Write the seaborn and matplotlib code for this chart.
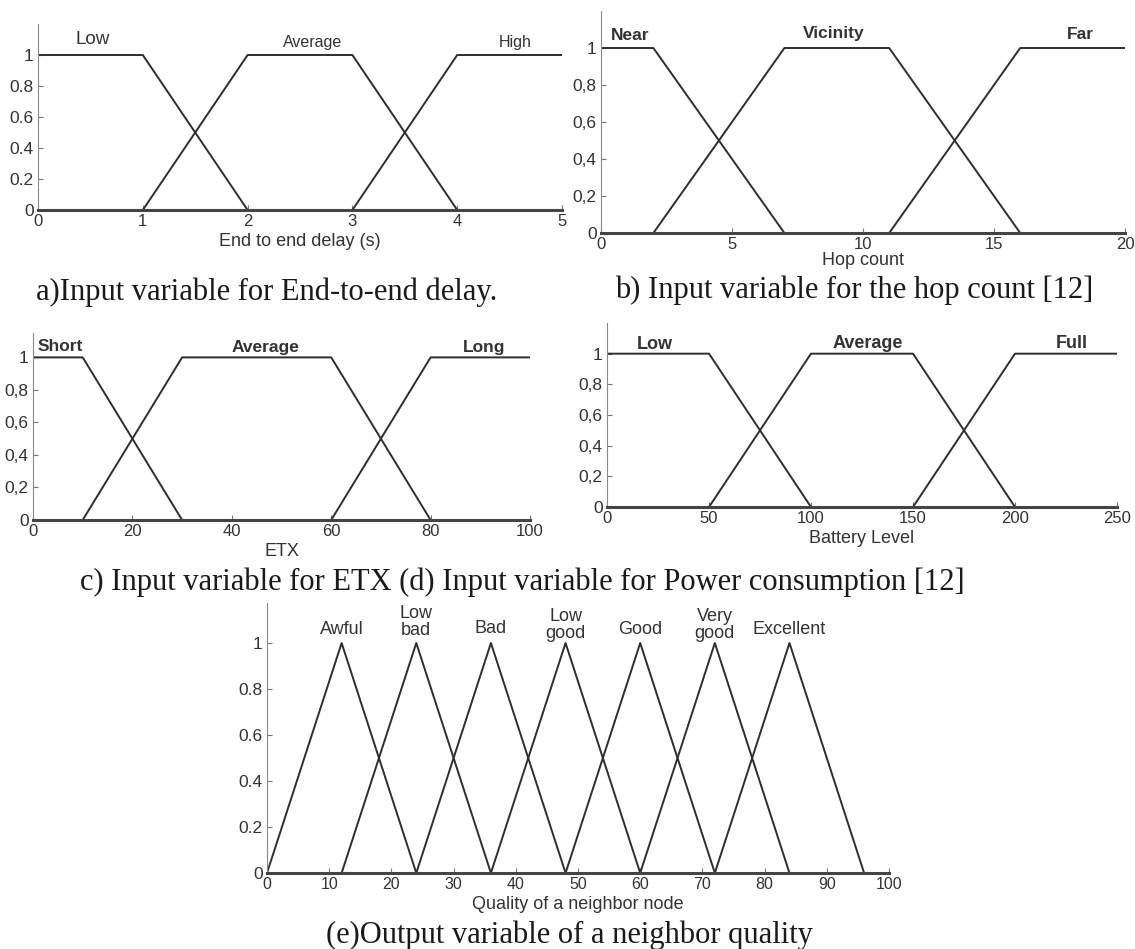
import numpy as np
import pandas as pd
import seaborn as sns
import matplotlib.pyplot as plt

sns.set_theme(style="white")
plt.rcParams['font.family'] = ['Liberation Sans', 'DejaVu Sans']

# membership grades on the y axis
mu_ticks = [0, 0.2, 0.4, 0.6, 0.8, 1]
mu_dot = ["0", "0.2", "0.4", "0.6", "0.8", "1"]
mu_comma = ["0", "0,2", "0,4", "0,6", "0,8", "1"]

# a) end to end delay
delay_sets = ["Low", "Average", "High"]
delay_x = [[0, 1, 2], [1, 2, 3, 4], [3, 4, 5]]
delay_y = [[1, 1, 0], [0, 1, 1, 0], [0, 1, 1]]
delay_ticks = [0, 1, 2, 3, 4, 5]

# b) hop count
hop_sets = ["Near", "Vicinity", "Far"]
hop_x = [[0, 2, 7], [2, 7, 11, 16], [11, 16, 20]]
hop_y = [[1, 1, 0], [0, 1, 1, 0], [0, 1, 1]]
hop_ticks = [0, 5, 10, 15, 20]

# c) ETX
etx_sets = ["Short", "Average", "Long"]
etx_x = [[0, 10, 30], [10, 30, 60, 80], [60, 80, 100]]
etx_y = [[1, 1, 0], [0, 1, 1, 0], [0, 1, 1]]
etx_ticks = [0, 20, 40, 60, 80, 100]

# d) battery level
bat_sets = ["Low", "Average", "Full"]
bat_x = [[0, 50, 100], [50, 100, 150, 200], [150, 200, 250]]
bat_y = [[1, 1, 0], [0, 1, 1, 0], [0, 1, 1]]
bat_ticks = [0, 50, 100, 150, 200, 250]

# e) neighbor quality (output)
q_sets = ["Awful", "Low\nbad", "Bad", "Low\ngood", "Good", "Very\ngood", "Excellent"]
q_x = [[0, 12, 24], [12, 24, 36], [24, 36, 48], [36, 48, 60],
       [48, 60, 72], [60, 72, 84], [72, 84, 96]]
q_y = [[0, 1, 0]] * 7
q_ticks = [0, 10, 20, 30, 40, 50, 60, 70, 80, 90, 100]

LINE = "#2e2e2e"


def draw(ax, xs, ys, names, xticks, ylabels, xlabel, ytop, tsize=12.5, xtsize=12, lpad=3):
    rows = []
    for name, xx, yy in zip(names, xs, ys):
        for i, (a, b) in enumerate(zip(xx, yy)):
            rows.append({"x": a, "mu": b, "set": name, "k": i})
    df = pd.DataFrame(rows)
    sns.lineplot(data=df, x="x", y="mu", units="set", estimator=None, sort=False,
                 color=LINE, lw=1.4, ax=ax)
    ax.set_xlim(xticks[0], xticks[-1])
    ax.set_ylim(0, ytop)
    ax.set_xticks(xticks)
    ax.set_xticklabels([str(t) for t in xticks])
    ax.set_yticks(mu_ticks)
    ax.set_yticklabels(ylabels)
    ax.set_ylabel("")
    ax.set_xlabel(xlabel, fontsize=13, labelpad=lpad, color="#333333")
    for s in ["top", "right"]:
        ax.spines[s].set_visible(False)
    ax.spines["left"].set_linewidth(0.8)
    ax.spines["left"].set_color("#8a8a8a")
    ax.spines["bottom"].set_linewidth(2.2)
    ax.spines["bottom"].set_color("#444444")
    ax.tick_params(axis="both", direction="in", length=3.5, width=0.8, color="#777777",
                   bottom=True, left=True, labelcolor="#333333", pad=3)
    ax.tick_params(axis="y", labelsize=tsize)
    ax.tick_params(axis="x", labelsize=xtsize)
    ax.patch.set_alpha(0)


fig = plt.figure(figsize=(11.35, 9.49), dpi=100)
W, H = 1135.0, 949.0


def box(x0, x1, y0, ytop_px):
    return [x0 / W, 1 - y0 / H, (x1 - x0) / W, (y0 - ytop_px) / H]


# a
ax_a = fig.add_axes(box(38, 562, 210, 24))
draw(ax_a, delay_x, delay_y, delay_sets, delay_ticks, mu_dot, "End to end delay (s)", 1.2)
for name, px, py, fs in zip(delay_sets, [0.52, 2.62, 4.55], [1.10, 1.08, 1.08], [13.5, 11.5, 11.5]):
    ax_a.text(px, py, name, ha="center", va="center", fontsize=fs, color="#333333")

# b
ax_b = fig.add_axes(box(601, 1125, 233, 11))
draw(ax_b, hop_x, hop_y, hop_sets, hop_ticks, mu_comma, "Hop count", 1.2, lpad=0)
for name, px, py in zip(hop_sets, [1.1, 8.9, 18.3], [1.065, 1.08, 1.075]):
    ax_b.text(px, py, name, ha="center", va="center", fontsize=12.5, fontweight="bold", color="#333333")

# c
ax_c = fig.add_axes(box(33, 530, 520, 333))
draw(ax_c, etx_x, etx_y, etx_sets, etx_ticks, mu_comma, "ETX", 1.15)
for name, px, py in zip(etx_sets, [5.4, 46.7, 90.8], [1.07, 1.06, 1.06]):
    ax_c.text(px, py, name, ha="center", va="center", fontsize=12.5, fontweight="bold", color="#333333")

# d
ax_d = fig.add_axes(box(607, 1117, 507, 323))
draw(ax_d, bat_x, bat_y, bat_sets, bat_ticks, mu_comma, "Battery Level", 1.2)
for name, px, py in zip(bat_sets, [23.5, 128, 228], [1.06, 1.065, 1.065]):
    ax_d.text(px, py, name, ha="center", va="center", fontsize=13, fontweight="bold", color="#333333")

# e
ax_e = fig.add_axes(box(267, 889, 873, 603))
draw(ax_e, q_x, q_y, q_sets, q_ticks, mu_dot, "Quality of a neighbor node", 1.174, xtsize=11.5)
for name, xx, py in zip(q_sets, q_x, [1.057, 1.09, 1.065, 1.078, 1.06, 1.078, 1.06]):
    ax_e.text(xx[1], py, name, ha="center", va="center", fontsize=13,
              linespacing=1.0, color="#333333")

# captions
cap = dict(family=["Liberation Serif", "DejaVu Serif"], fontsize=22, color="#1a1a1a", va="center")
fig.text(36 / W, 1 - 292 / H, "a)Input variable for End-to-end delay.", ha="left", **cap)
fig.text(615 / W, 1 - 290 / H, "b) Input variable for the hop count [12]", ha="left", **cap)
fig.text(80 / W, 1 - 582 / H, "c) Input variable for ETX (d) Input variable for Power consumption [12]",
         ha="left", **cap)
fig.text(326 / W, 1 - 935 / H, "(e)Output variable of a neighbor quality", ha="left", **cap)

fig.savefig("out.png", dpi=100, facecolor="white")
